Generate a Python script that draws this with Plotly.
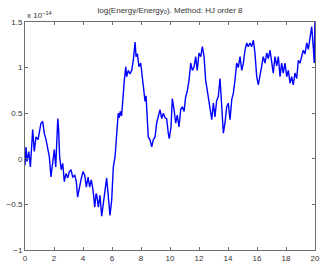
import plotly.graph_objects as go

# time (x) and log energy error (in units of 1e-14)
t = [0.0, 0.07, 0.14, 0.26, 0.37, 0.48, 0.53, 0.64, 0.76, 0.90, 0.99, 1.10, 1.22, 1.33, 1.45, 1.57, 1.68, 1.79, 1.91, 2.02,
     2.12, 2.21, 2.26, 2.32, 2.39, 2.50, 2.60, 2.71, 2.83, 2.95, 3.06, 3.17, 3.29, 3.43, 3.54, 3.63, 3.75, 3.86, 4.00, 4.12,
     4.23, 4.35, 4.46, 4.57, 4.69, 4.81, 4.90, 4.95, 5.06, 5.17, 5.29, 5.40, 5.52, 5.63, 5.75, 5.86, 5.98, 6.02, 6.09, 6.21,
     6.32, 6.43, 6.50, 6.57, 6.66, 6.74, 6.85, 6.95, 7.01, 7.12, 7.24, 7.36, 7.47, 7.59, 7.66, 7.75, 7.86, 7.98, 8.12, 8.23,
     8.28, 8.35, 8.43, 8.50, 8.62, 8.74, 8.85, 8.97, 9.08, 9.19, 9.31, 9.43, 9.54, 9.66, 9.77, 9.88, 9.95, 10.07, 10.16, 10.28,
     10.39, 10.50, 10.62, 10.74, 10.85, 10.97, 11.08, 11.19, 11.31, 11.43, 11.54, 11.66, 11.77, 11.88, 12.00, 12.12, 12.23, 12.35, 12.46, 12.57,
     12.69, 12.81, 12.88, 12.99, 13.10, 13.22, 13.33, 13.45, 13.57, 13.68, 13.79, 13.91, 14.02, 14.14, 14.26, 14.37, 14.48, 14.60, 14.71, 14.83,
     14.95, 15.06, 15.17, 15.29, 15.40, 15.52, 15.63, 15.75, 15.86, 15.98, 16.09, 16.21, 16.32, 16.43, 16.55, 16.67, 16.78, 16.90, 17.01, 17.12,
     17.24, 17.36, 17.47, 17.59, 17.70, 17.81, 17.93, 18.05, 18.16, 18.28, 18.39, 18.50, 18.62, 18.74, 18.85, 18.97, 19.08, 19.19, 19.31, 19.43,
     19.54, 19.66, 19.77, 19.88, 19.95, 20.0]
err = [-0.07, 0.13, -0.03, 0.08, -0.09, 0.21, 0.32, 0.08, 0.24, 0.21, 0.28, 0.39, 0.41, 0.28, 0.21, 0.10, 0.02, -0.20, -0.01, 0.10,
       -0.09, 0.24, 0.44, 0.32, 0.02, -0.12, -0.05, -0.25, -0.16, -0.21, -0.14, -0.12, -0.20, -0.18, -0.25, -0.42, -0.31, -0.23, -0.14, -0.18,
       -0.31, -0.20, -0.31, -0.23, -0.34, -0.53, -0.38, -0.40, -0.53, -0.40, -0.63, -0.49, -0.38, -0.21, -0.42, -0.62, -0.45, -0.25, -0.09, 0.02,
       0.28, 0.50, 0.45, 0.52, 0.47, 0.68, 0.86, 1.01, 0.90, 0.97, 0.93, 0.97, 1.08, 1.28, 1.12, 1.15, 1.01, 1.05, 0.83, 0.72,
       0.63, 0.69, 0.44, 0.24, 0.21, 0.13, 0.21, 0.24, 0.39, 0.46, 0.54, 0.44, 0.50, 0.45, 0.44, 0.28, 0.22, 0.35, 0.66, 0.54,
       0.39, 0.48, 0.35, 0.54, 0.57, 0.52, 0.68, 0.74, 0.86, 1.05, 0.97, 1.01, 1.12, 0.97, 1.16, 1.12, 1.23, 1.12, 0.86, 0.75,
       0.64, 0.52, 0.43, 0.61, 0.46, 0.64, 0.68, 0.88, 0.54, 0.28, 0.39, 0.57, 0.61, 0.43, 0.65, 0.72, 0.86, 1.05, 1.00, 1.12,
       0.97, 1.05, 1.19, 1.27, 1.23, 1.27, 1.23, 1.30, 1.16, 0.90, 0.81, 0.94, 1.01, 1.12, 1.05, 1.16, 1.10, 1.19, 1.05, 0.94,
       1.12, 1.02, 1.12, 0.90, 1.05, 0.94, 1.05, 0.90, 0.97, 0.83, 0.90, 0.81, 0.94, 0.88, 1.08, 1.05, 1.12, 1.19, 1.15, 1.27,
       1.20, 1.34, 1.45, 1.23, 1.05, 1.55]

x_ticks = [0, 2, 4, 6, 8, 10, 12, 14, 16, 18, 20]
y_ticks = [-1, -0.5, 0, 0.5, 1, 1.5]
y_tick_text = ["\u22121", "\u22120.5", "0", "0.5", "1", "1.5"]

font = "Liberation Sans, Arial, Helvetica, sans-serif"
axis_color = "#6e6e6e"

fig = go.Figure()
fig.add_trace(go.Scatter(x=t, y=err, mode="lines",
                         line=dict(color="#0000ff", width=1.4), showlegend=False))

fig.update_layout(
    width=327, height=270,
    margin=dict(l=25, r=12, t=22, b=20, autoexpand=False),
    paper_bgcolor="white", plot_bgcolor="white",
    font=dict(family=font, size=8, color="#333333"),
    title=dict(text="log(Energy/Energy<sub>0</sub>). Method: HJ order 8",
               x=0.5, xref="paper", xanchor="center", y=0.963, yanchor="middle",
               font=dict(family=font, size=8, color="#333333")),
)
fig.update_xaxes(range=[0, 20], tickvals=x_ticks, ticktext=[str(v) for v in x_ticks],
                 showgrid=False, zeroline=False, showline=True, linecolor=axis_color, linewidth=1,
                 mirror="ticks", ticks="inside", ticklen=3, tickcolor=axis_color, automargin=False)
fig.update_yaxes(range=[-1, 1.5], tickvals=y_ticks, ticktext=y_tick_text,
                 showgrid=False, zeroline=False, showline=True, linecolor=axis_color, linewidth=1,
                 mirror="ticks", ticks="inside", ticklen=3, tickcolor=axis_color, automargin=False)

fig.add_annotation(text="x 10<sup>\u221214</sup>", xref="paper", yref="paper", x=0.0, y=1.0,
                   xanchor="left", yanchor="bottom", showarrow=False,
                   font=dict(family=font, size=8, color="#333333"), yshift=0)

fig.write_html("out.html", config={"displayModeBar": False, "staticPlot": True},
               post_script="document.body.style.margin='0';document.body.style.overflow='hidden';")
